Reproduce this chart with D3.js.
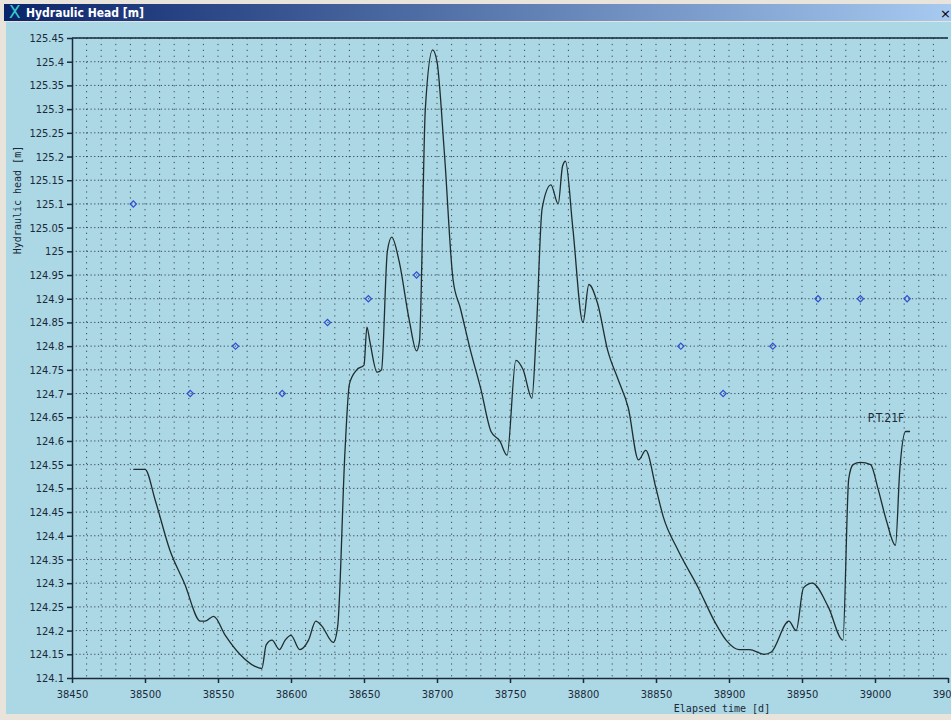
<!DOCTYPE html>
<html>
<head>
<meta charset="UTF-8">
<script src="https://d3js.org/d3.v7.min.js"></script>
<style>
  body { margin: 0; background: #f0f0f0; }
  svg { display: block; }
</style>
</head>
<body>
<svg id="chart" width="951" height="720"></svg>
<script>
// measured curve P.T.21F: [day, head]
const curveDays = [38492,38500,38507,38517,38527,38538,38541,38547,38555,38565,38575,38580,38583,38587,38592,38596,38600,38606,38612,38617,38621,38629,38632,38637,38640,38645,38650,38652,38654,38659,38662,38666,38669,38674,38681,38686,38688,38692,38697,38700,38705,38711,38716,38723,38730,38737,38743,38748,38754,38759,38765,38768,38772,38778,38783,38786,38788,38793,38800,38804,38810,38817,38824,38831,38838,38843,38850,38855,38865,38879,38890,38898,38907,38914,38924,38929,38941,38946,38951,38957,38968,38978,38982,38985,38990,38997,39002,39008,39014,39017,39021,39024];
const curveHead = [124.54,124.54,124.475,124.37,124.30,124.22,124.22,124.23,124.19,124.15,124.125,124.12,124.17,124.18,124.16,124.18,124.19,124.16,124.18,124.22,124.21,124.175,124.21,124.58,124.72,124.75,124.76,124.84,124.81,124.745,124.75,125.0,125.03,124.98,124.855,124.79,124.81,125.3,125.425,125.40,125.21,124.94,124.88,124.79,124.71,124.62,124.60,124.57,124.77,124.75,124.69,124.83,125.09,125.14,125.10,125.18,125.19,125.05,124.85,124.93,124.89,124.79,124.73,124.67,124.56,124.58,124.50,124.44,124.37,124.29,124.22,124.18,124.16,124.16,124.15,124.155,124.22,124.20,124.29,124.30,124.25,124.18,124.52,124.55,124.555,124.55,124.50,124.43,124.38,124.54,124.62,124.62];
// observed values
const obsDays = [38492,38531,38562,38594,38625,38653,38686,38867,38896,38930,38961,38990,39022];
const obsHead = [125.10,124.70,124.80,124.70,124.85,124.90,124.95,124.80,124.70,124.80,124.90,124.90,124.90];
const xTicks = d3.range(38450, 39051, 50);
const yTicks = d3.range(0, 28).map(i => +(124.1 + i * 0.05).toFixed(2));

const svg = d3.select("#chart");
// window frame
svg.append("rect").attr("x", 0).attr("y", 0).attr("width", 951).attr("height", 720).attr("fill", "#e8e4dc");
svg.append("rect").attr("x", 6).attr("y", 22).attr("width", 945).attr("height", 692).attr("fill", "#acd7e4");
const grad = svg.append("defs").append("linearGradient").attr("id", "tb");
grad.append("stop").attr("offset", "0").attr("stop-color", "#0a246a");
grad.append("stop").attr("offset", "1").attr("stop-color", "#a6caf0");
svg.append("rect").attr("x", 4).attr("y", 4).attr("width", 947).attr("height", 17).attr("fill", "url(#tb)");
svg.append("text").attr("x", 9).attr("y", 18).attr("fill", "#3cc").attr("font-size", 17).attr("font-family", "DejaVu Sans").text("X");
svg.append("text").attr("x", 26).attr("y", 17).attr("fill", "#fff").attr("font-weight", "bold")
  .attr("font-size", 12).attr("font-family", "DejaVu Sans Condensed, DejaVu Sans").text("Hydraulic Head [m]");
svg.append("text").attr("x", 940).attr("y", 18).attr("fill", "#000").attr("font-size", 13).attr("font-family", "DejaVu Sans").text("×");

const x = d3.scaleLinear().domain([38450, 39050]).range([72, 948]);
const y = d3.scaleLinear().domain([124.1, 125.45]).range([678, 38]);

const g = svg.append("g");
// grid
g.selectAll("line.vg").data(d3.range(38460, 39050, 10)).enter().append("line")
  .attr("x1", d => x(d)).attr("x2", d => x(d)).attr("y1", 38).attr("y2", 678)
  .attr("stroke", "#2a3a44").attr("stroke-width", 0.9).attr("stroke-dasharray", "1.2,4.7");
g.selectAll("line.hg").data(yTicks.slice(1)).enter().append("line")
  .attr("x1", 72).attr("x2", 948).attr("y1", d => y(d)).attr("y2", d => y(d))
  .attr("stroke", "#2a3a44").attr("stroke-width", 0.9).attr("stroke-dasharray", "1.2,2.5");

const font = "DejaVu Sans Condensed, DejaVu Sans";
const xAxis = g.append("g").attr("transform", "translate(0,678)")
  .call(d3.axisBottom(x).tickValues(xTicks).tickFormat(d3.format("d")).tickSize(5).tickSizeOuter(0));
const yAxis = g.append("g").attr("transform", "translate(72,0)")
  .call(d3.axisLeft(y).tickValues(yTicks).tickFormat(d => String(d)).tickSize(5).tickSizeOuter(0));
[xAxis, yAxis].forEach(a => {
  a.selectAll("path, line").attr("stroke", "#1a2a3a").attr("stroke-width", 1.5);
  a.selectAll("text").attr("font-family", font).attr("font-size", 11).attr("fill", "#1a2a3a");
});
xAxis.selectAll("text").attr("dy", "1.1em");
g.append("line").attr("x1", 72).attr("x2", 948).attr("y1", 38).attr("y2", 38).attr("stroke", "#1a2a3a").attr("stroke-width", 1.5);

svg.append("text").attr("transform", "translate(21,200) rotate(-90)").attr("text-anchor", "middle")
  .attr("font-family", "DejaVu Sans Mono").attr("font-size", 10).attr("fill", "#1a2a3a").text("Hydraulic head [m]");
svg.append("text").attr("x", 722).attr("y", 712).attr("text-anchor", "middle")
  .attr("font-family", "DejaVu Sans Mono").attr("font-size", 10).attr("fill", "#1a2a3a").text("Elapsed time [d]");

// curve
const pts = curveDays.map((d, i) => [d, curveHead[i]]);
g.append("path").datum(pts)
  .attr("d", d3.line().x(d => x(d[0])).y(d => y(d[1])).curve(d3.curveMonotoneX))
  .attr("fill", "none").attr("stroke", "#1e2e30").attr("stroke-width", 1.3);
g.append("text").attr("x", x(38995)).attr("y", y(124.64)).attr("font-family", font).attr("font-size", 12)
  .attr("fill", "#1a2a3a").text("P.T.21F");

// observed diamonds
g.selectAll("rect.obs").data(obsDays.map((d, i) => [d, obsHead[i]])).enter().append("rect")
  .attr("x", -2.2).attr("y", -2.2).attr("width", 4.4).attr("height", 4.4)
  .attr("transform", d => `translate(${x(d[0])},${y(d[1])}) rotate(45)`)
  .attr("fill", "none").attr("stroke", "#3050d0").attr("stroke-width", 1.2);
</script>
</body>
</html>
